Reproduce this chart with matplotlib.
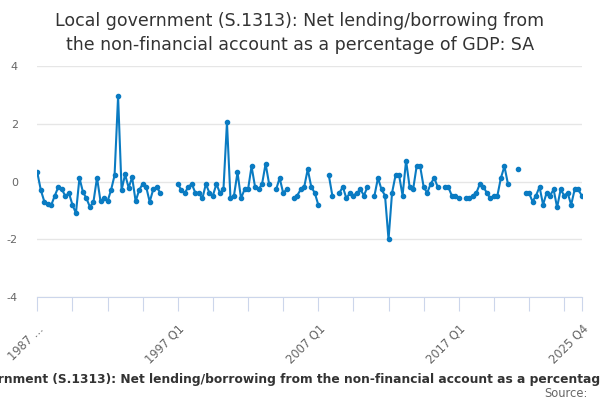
import numpy as np
import matplotlib
matplotlib.use("Agg")
import matplotlib.pyplot as plt

nan = np.nan

# quarterly values, 1987 Q1 .. 2025 Q4 (nan = no value)
values = [
    0.32, -0.29, -0.69, -0.77, -0.80, -0.48, -0.18, -0.27, -0.50, -0.39,
    -0.80, -1.09, 0.13, -0.36, -0.58, -0.88, -0.69, 0.14, -0.68, -0.58,
    -0.68, -0.29, 0.22, 2.95, -0.29, 0.25, -0.21, 0.15, -0.68, -0.29,
    -0.08, -0.18, -0.70, -0.27, -0.18, -0.39, nan, nan, nan, nan,
    -0.08, -0.29, -0.39, -0.18, -0.08, -0.39, -0.39, -0.58, -0.08, -0.39,
    -0.48, -0.08, -0.39, -0.27, 2.05, -0.58, -0.48, 0.32, -0.58, -0.27,
    -0.27, 0.53, -0.18, -0.27, -0.08, 0.62, -0.08, nan, -0.27, 0.13,
    -0.39, -0.27, nan, -0.58, -0.48, -0.27, -0.18, 0.43, -0.18, -0.39,
    -0.80, nan, nan, 0.22, -0.48, nan, -0.39, -0.18, -0.58, -0.39,
    -0.48, -0.39, -0.27, -0.48, -0.18, nan, -0.48, 0.13, -0.27, -0.48,
    -2.00, -0.39, 0.22, 0.22, -0.48, 0.73, -0.18, -0.27, 0.53, 0.53,
    -0.18, -0.39, -0.08, 0.13, -0.18, nan, -0.18, -0.18, -0.48, -0.48,
    -0.58, nan, -0.58, -0.58, -0.48, -0.39, -0.08, -0.18, -0.39, -0.58,
    -0.48, -0.48, 0.13, 0.53, -0.08, nan, nan, 0.43, nan, -0.39,
    -0.39, -0.69, -0.48, -0.18, -0.80, -0.39, -0.48, -0.27, -0.89, -0.27,
    -0.48, -0.39, -0.80, -0.27, -0.27, -0.48,
]
quarters = [f"{y} Q{q}" for y in range(1987, 2026) for q in range(1, 5)]
label_idx = [0, 40, 80, 120, 155]
label_txt = ["1987 …", "1997 Q1", "2007 Q1", "2017 Q1", "2025 Q4"]
y_ticks = [-4, -2, 0, 2, 4]

title = ("Local government (S.1313): Net lending/borrowing from\n"
         "the non-financial account as a percentage of GDP: SA")
caption = ("Local government (S.1313): Net lending/borrowing from the "
           "non-financial account as a percentage of GDP: SA")

fig = plt.figure(figsize=(6, 4), dpi=100)
ax = fig.add_axes([37.3 / 600, 1 - 297.3 / 400, 544.4 / 600, 231.3 / 400])

x = np.arange(len(quarters))
ax.plot(x, values, color="#0a7bc2", lw=1.5, marker="o", ms=3,
        solid_joinstyle="round")

ax.set_xlim(0, len(quarters) - 1)
ax.set_ylim(-4, 4)
ax.set_yticks(y_ticks)
ax.set_yticklabels([str(v) for v in y_ticks])
ax.grid(axis="y", color="#e6e6e6", lw=1)
ax.set_axisbelow(True)
for s in ["top", "right", "left"]:
    ax.spines[s].set_visible(False)
ax.spines["bottom"].set_color("#ccd6eb")
ax.tick_params(axis="y", length=0, pad=14, labelsize=8, labelcolor="#666666")

ticks = list(range(0, 151, 10)) + [155]
ax.set_xticks(ticks)
labels = []
for t in ticks:
    labels.append(label_txt[label_idx.index(t)] if t in label_idx else "")
ax.set_xticklabels(labels, rotation=45, ha="right", va="top",
                   rotation_mode="anchor")
ax.tick_params(axis="x", length=10, color="#ccd6eb", labelsize=8.3,
               labelcolor="#666666", pad=8)

fig.text(0.5, 0.97, title, ha="center", va="top", fontsize=12.5,
         color="#333333", linespacing=1.4)
fig.text(0.51, 0.052, caption, ha="center", va="center", fontsize=8.8,
         fontweight="bold", color="#333333")
fig.text(0.98, 0.016, "Source:", ha="right", va="center", fontsize=8.3,
         color="#666666")

fig.savefig("out.png", dpi=100)
